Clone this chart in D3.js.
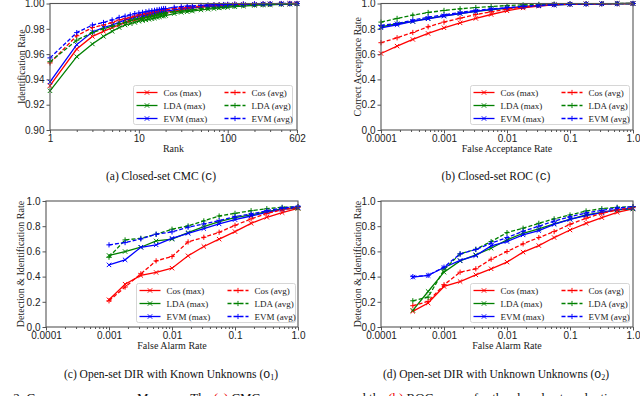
<!DOCTYPE html>
<html lang="en">
<head>
<meta charset="utf-8">
<title>Comparison between Methods</title>
<style>
  body { margin: 0; background: #fff; }
  svg { display: block; font-family: "Liberation Serif", "Times New Roman", serif; }
  .tick text { font-size: 10px; fill: #222; }
  .tick line { stroke: #555; }
  .domain { display: none; }
  .frame { fill: none; stroke: #555; stroke-width: 1.1; }
  .lbl { font-size: 10px; fill: #222; }
  .leg { font-size: 9px; fill: #222; }
  .cap { font-size: 11.5px; fill: #111; }
</style>
</head>
<body>
<script src="https://cdn.jsdelivr.net/npm/d3@7"></script>
<script>

// ---- data ----

// (a) closed-set CMC
var cmcRanks = [1,2,3,4,5,6,7,8,9,10,11,12,13,14,15,16,17,18,19,20,25,30,35,40,50,60,70,80,90,100,120,150,200,250,300,400,500,602];
var cmcCosMax = [0.935,0.964,0.974,0.978,0.981,0.983,0.985,0.986,0.987,0.988,0.989,0.9895,0.990,0.9905,0.991,0.9915,0.992,0.9925,0.993,0.993,0.994,0.995,0.996,0.9965,0.997,0.9975,0.998,0.998,0.9985,0.9985,0.999,0.999,0.9993,0.9995,0.9996,0.9998,0.9999,1.0];
var cmcLdaMax = [0.931,0.958,0.968,0.974,0.978,0.981,0.983,0.984,0.985,0.986,0.9865,0.987,0.9875,0.988,0.9885,0.989,0.9895,0.990,0.990,0.9905,0.992,0.993,0.9935,0.994,0.995,0.9955,0.996,0.9965,0.997,0.997,0.9975,0.998,0.9985,0.999,0.999,0.9993,0.9995,0.9997];
var cmcEvmMax = [0.938,0.9675,0.9775,0.981,0.983,0.985,0.987,0.988,0.989,0.990,0.9905,0.991,0.9915,0.992,0.9925,0.993,0.9933,0.9936,0.994,0.994,0.995,0.996,0.9965,0.997,0.9975,0.998,0.998,0.9985,0.9985,0.9988,0.999,0.9992,0.9994,0.9995,0.9997,0.9998,0.9999,1.0];
var cmcCosAvg = [0.953,0.9745,0.981,0.983,0.985,0.987,0.988,0.989,0.990,0.991,0.9915,0.992,0.9925,0.993,0.9935,0.994,0.9943,0.9946,0.995,0.995,0.996,0.9965,0.997,0.9975,0.998,0.9985,0.9988,0.999,0.999,0.9992,0.9994,0.9995,0.9996,0.9997,0.9998,0.9999,1.0,1.0];
var cmcLdaAvg = [0.954,0.971,0.977,0.980,0.982,0.984,0.985,0.9865,0.9875,0.988,0.9885,0.989,0.9895,0.990,0.9905,0.991,0.9915,0.992,0.992,0.9925,0.9935,0.994,0.9945,0.995,0.996,0.9965,0.997,0.997,0.9975,0.998,0.998,0.9985,0.999,0.999,0.9993,0.9995,0.9997,0.9998];
var cmcEvmAvg = [0.957,0.977,0.983,0.985,0.987,0.989,0.990,0.991,0.992,0.9925,0.993,0.9935,0.994,0.9943,0.9946,0.995,0.9953,0.9956,0.996,0.996,0.997,0.9975,0.998,0.998,0.9985,0.9988,0.999,0.999,0.9992,0.9993,0.9995,0.9996,0.9997,0.9998,0.9999,1.0,1.0,1.0];

// (b) closed-set ROC
var rocFar = [0.0001,0.00018,0.00032,0.00056,0.001,0.0018,0.0032,0.0056,0.01,0.018,0.032,0.056,0.1,0.18,0.32,0.56,1.0];
var rocCosMax = [0.605,0.663,0.716,0.763,0.808,0.847,0.882,0.913,0.942,0.965,0.98,0.99,0.995,0.997,0.998,0.999,1.0];
var rocLdaMax = [0.816,0.84,0.858,0.882,0.903,0.921,0.937,0.95,0.963,0.975,0.983,0.99,0.994,0.996,0.998,0.999,1.0];
var rocEvmMax = [0.808,0.832,0.858,0.879,0.9,0.921,0.937,0.953,0.963,0.974,0.982,0.989,0.994,0.996,0.998,0.999,1.0];
var rocCosAvg = [0.69,0.729,0.771,0.816,0.853,0.884,0.913,0.934,0.955,0.973,0.985,0.992,0.995,0.997,0.998,0.999,1.0];
var rocLdaAvg = [0.853,0.882,0.908,0.929,0.945,0.958,0.968,0.976,0.984,0.989,0.993,0.995,0.997,0.998,0.999,1.0,1.0];
var rocEvmAvg = [0.826,0.842,0.868,0.892,0.91,0.929,0.945,0.958,0.968,0.978,0.986,0.991,0.995,0.997,0.998,0.999,1.0];

// (c) open-set DIR, known unknowns
var knownFar = [0.001,0.0018,0.0032,0.0056,0.01,0.018,0.032,0.056,0.1,0.18,0.32,0.56,1.0];
var knownCosMax = [0.216,0.34,0.409,0.433,0.467,0.565,0.639,0.697,0.757,0.823,0.871,0.908,0.942];
var knownLdaMax = [0.568,0.599,0.633,0.683,0.697,0.749,0.797,0.836,0.868,0.889,0.916,0.937,0.942];
var knownEvmMax = [0.493,0.533,0.633,0.652,0.704,0.744,0.781,0.818,0.852,0.881,0.91,0.934,0.95];
var knownCosAvg = [0.208,0.317,0.422,0.525,0.559,0.675,0.712,0.752,0.807,0.858,0.902,0.929,0.95];
var knownLdaAvg = [0.554,0.691,0.704,0.736,0.776,0.802,0.842,0.881,0.902,0.923,0.939,0.95,0.955];
var knownEvmAvg = [0.652,0.67,0.699,0.736,0.755,0.792,0.818,0.844,0.876,0.897,0.923,0.945,0.955];

// (d) open-set DIR, unknown unknowns
var unkFar = [0.00032,0.00056,0.001,0.0018,0.0032,0.0056,0.01,0.018,0.032,0.056,0.1,0.18,0.32,0.56,1.0];
var unkCosMax = [0.124,0.19,0.322,0.361,0.414,0.462,0.515,0.594,0.646,0.71,0.77,0.823,0.868,0.91,0.937];
var unkLdaMax = [0.132,0.282,0.435,0.525,0.573,0.625,0.691,0.744,0.778,0.818,0.855,0.889,0.91,0.929,0.937];
var unkEvmMax = [0.396,0.409,0.472,0.528,0.567,0.644,0.678,0.731,0.765,0.815,0.855,0.884,0.908,0.934,0.942];
var unkCosAvg = [0.169,0.203,0.335,0.435,0.462,0.538,0.599,0.66,0.71,0.757,0.815,0.863,0.902,0.929,0.947];
var unkLdaAvg = [0.208,0.237,0.454,0.58,0.617,0.678,0.749,0.784,0.823,0.858,0.889,0.921,0.939,0.95,0.955];
var unkEvmAvg = [0.40,0.41,0.475,0.58,0.615,0.665,0.71,0.76,0.80,0.84,0.875,0.905,0.925,0.945,0.955];

// series names and tick labels
var seriesNames = ["Cos (max)", "LDA (max)", "EVM (max)", "Cos (avg)", "LDA (avg)", "EVM (avg)"];
var cmcTicks = [1, 10, 100, 602];
var cmcTickLabels = ["1", "10", "100", "602"];
var farTicks = [0.0001, 0.001, 0.01, 0.1, 1.0];
var farTickLabels = ["0.0001", "0.001", "0.01", "0.1", "1.0"];
var cmcYTicks = [0.90, 0.92, 0.94, 0.96, 0.98, 1.00];
var rateYTicks = [0, 0.2, 0.4, 0.6, 0.8, 1.0];

// ---- drawing ----

var colors = ["#ff0000", "#008000", "#0000ff", "#ff0000", "#008000", "#0000ff"];
var dashed = [false, false, false, true, true, true];

var svg = d3.select("body").append("svg")
    .attr("width", 640)
    .attr("height", 396);

function minorTicks(lo, hi) {
  var out = [];
  for (var e = Math.floor(Math.log10(lo)); e <= Math.ceil(Math.log10(hi)); e++) {
    for (var m = 2; m <= 9; m++) {
      var v = m * Math.pow(10, e);
      if (v > lo && v < hi) out.push(v);
    }
  }
  return out;
}

function marker(sel, isAvg, color) {
  sel.append("path")
    .attr("d", isAvg ? "M-2.6,0H2.6M0,-2.6V2.6" : "M-2.2,-2.2L2.2,2.2M-2.2,2.2L2.2,-2.2")
    .attr("stroke", color)
    .attr("stroke-width", 1)
    .attr("fill", "none");
}

function panel(p) {
  var g = svg.append("g");

  var x = d3.scaleLog().domain(p.xDomain).range([p.left, p.right]);
  var y = d3.scaleLinear().domain(p.yDomain).range([p.bottom, p.top]);

  // minor x ticks
  g.append("g")
      .attr("transform", "translate(0," + p.bottom + ")")
      .call(d3.axisBottom(x).tickValues(minorTicks(p.xDomain[0], p.xDomain[1]))
        .tickSize(2).tickFormat(""));

  // major x ticks
  g.append("g")
      .attr("transform", "translate(0," + p.bottom + ")")
      .call(d3.axisBottom(x).tickValues(p.xTicks)
        .tickSize(3.5).tickPadding(1)
        .tickFormat(function(d, i) { return p.xLabels[i]; }));

  g.append("g")
      .attr("transform", "translate(" + p.left + ",0)")
      .call(d3.axisLeft(y).tickValues(p.yTicks)
        .tickSize(3.5).tickPadding(2)
        .tickFormat(d3.format(p.yFormat)));

  var line = d3.line()
      .x(function(d) { return x(d[0]); })
      .y(function(d) { return y(d[1]); });

  p.series.forEach(function(vals, i) {
    var pts = p.xs.map(function(v, j) { return [v, vals[j]]; });
    g.append("path")
        .datum(pts)
        .attr("d", line)
        .attr("fill", "none")
        .attr("stroke", colors[i])
        .attr("stroke-width", 1.3)
        .attr("stroke-dasharray", dashed[i] ? "4,2" : null);
    g.append("g").selectAll("g")
        .data(pts)
      .enter().append("g")
        .attr("transform", function(d) { return "translate(" + x(d[0]) + "," + y(d[1]) + ")"; })
        .each(function() { marker(d3.select(this), dashed[i], colors[i]); });
  });

  g.append("rect")
      .attr("class", "frame")
      .attr("x", p.left).attr("y", p.top)
      .attr("width", p.right - p.left).attr("height", p.bottom - p.top);

  // axis labels
  g.append("text")
      .attr("class", "lbl")
      .attr("text-anchor", "middle")
      .attr("x", (p.left + p.right) / 2)
      .attr("y", p.bottom + 22)
      .text(p.xTitle);

  g.append("text")
      .attr("class", "lbl")
      .attr("text-anchor", "middle")
      .attr("dy", "0.35em")
      .attr("transform", "translate(" + p.yTitleX + "," + (p.top + p.bottom) / 2 + ") rotate(-90)")
      .text(p.yTitle);

  // legend
  var lg = g.append("g").attr("transform", "translate(" + p.legend[0] + "," + p.legend[1] + ")");
  lg.append("rect")
      .attr("width", 159).attr("height", 39).attr("rx", 2)
      .attr("fill", "#fff").attr("fill-opacity", 0.85)
      .attr("stroke", "#ccc").attr("stroke-width", 0.8);
  seriesNames.forEach(function(name, i) {
    var col = Math.floor(i / 3), row = i % 3;
    var ox = 3 + col * 88, oy = 7 + row * 13;
    lg.append("line")
        .attr("x1", ox).attr("x2", ox + 21)
        .attr("y1", oy).attr("y2", oy)
        .attr("stroke", colors[i]).attr("stroke-width", 1.3)
        .attr("stroke-dasharray", dashed[i] ? "4,2" : null);
    marker(lg.append("g").attr("transform", "translate(" + (ox + 10.5) + "," + oy + ")"), dashed[i], colors[i]);
    lg.append("text")
        .attr("class", "leg")
        .attr("x", ox + 27).attr("y", oy + 3)
        .text(name);
  });

  // caption
  var cap = g.append("text")
      .attr("class", "cap")
      .attr("text-anchor", "middle")
      .attr("x", p.capX).attr("y", p.capY);
  cap.append("tspan").text(p.caption + " (");
  cap.append("tspan").attr("font-family", "Liberation Mono, monospace").text(p.capSym);
  if (p.capSub) {
    cap.append("tspan").attr("font-size", "8px").attr("dy", 2).text(p.capSub);
    cap.append("tspan").attr("dy", -2).text(")");
  } else {
    cap.append("tspan").text(")");
  }
}

panel({
  left: 50, right: 297, top: 3.5, bottom: 130,
  xDomain: [1, 602], yDomain: [0.90, 1.00],
  xTicks: cmcTicks, xLabels: cmcTickLabels, yTicks: cmcYTicks, yFormat: ".2f",
  xs: cmcRanks,
  series: [cmcCosMax, cmcLdaMax, cmcEvmMax, cmcCosAvg, cmcLdaAvg, cmcEvmAvg],
  xTitle: "Rank", yTitle: "Identification Rate", yTitleX: 21,
  legend: [133.5, 85.5],
  caption: "(a) Closed-set CMC", capSym: "C", capX: 161, capY: 180
});

panel({
  left: 381, right: 633, top: 3.5, bottom: 130,
  xDomain: [0.0001, 1], yDomain: [0, 1],
  xTicks: farTicks, xLabels: farTickLabels, yTicks: rateYTicks, yFormat: ".1f",
  xs: rocFar,
  series: [rocCosMax, rocLdaMax, rocEvmMax, rocCosAvg, rocLdaAvg, rocEvmAvg],
  xTitle: "False Acceptance Rate", yTitle: "Correct Acceptance Rate", yTitleX: 357,
  legend: [470.5, 85.5],
  caption: "(b) Closed-set ROC", capSym: "C", capX: 496, capY: 180
});

panel({
  left: 46, right: 298, top: 201, bottom: 327,
  xDomain: [0.0001, 1], yDomain: [0, 1],
  xTicks: farTicks, xLabels: farTickLabels, yTicks: rateYTicks, yFormat: ".1f",
  xs: knownFar,
  series: [knownCosMax, knownLdaMax, knownEvmMax, knownCosAvg, knownLdaAvg, knownEvmAvg],
  xTitle: "False Alarm Rate", yTitle: "Detection & Identification Rate", yTitleX: 20,
  legend: [136.5, 283.5],
  caption: "(c) Open-set DIR with Known Unknowns", capSym: "O", capSub: "1", capX: 171, capY: 378
});

panel({
  left: 381, right: 633, top: 201, bottom: 327,
  xDomain: [0.0001, 1], yDomain: [0, 1],
  xTicks: farTicks, xLabels: farTickLabels, yTicks: rateYTicks, yFormat: ".1f",
  xs: unkFar,
  series: [unkCosMax, unkLdaMax, unkEvmMax, unkCosAvg, unkLdaAvg, unkEvmAvg],
  xTitle: "False Alarm Rate", yTitle: "Detection & Identification Rate", yTitleX: 357,
  legend: [470.5, 283.5],
  caption: "(d) Open-set DIR with Unknown Unknowns", capSym: "O", capSub: "2", capX: 496, capY: 378
});

// figure caption line, cut off at the bottom edge
var fig = svg.append("text").attr("x", -24).attr("y", 402).attr("font-size", 13).attr("fill", "#111");
fig.append("tspan").text("Figure 2: ");
fig.append("tspan").attr("font-variant", "small-caps").text("Comparison between Methods.");
fig.append("tspan").text(" The ");
fig.append("tspan").attr("fill", "#e00").text("(a)");
fig.append("tspan").text(" CMC curves");
var fig2 = svg.append("text").attr("x", 347).attr("y", 402).attr("font-size", 13).attr("fill", "#111");
fig2.append("tspan").text("and the ");
fig2.append("tspan").attr("fill", "#e00").text("(b)");
fig2.append("tspan").text(" ROC curves for the closed-set evaluation");

</script>
</body>
</html>
